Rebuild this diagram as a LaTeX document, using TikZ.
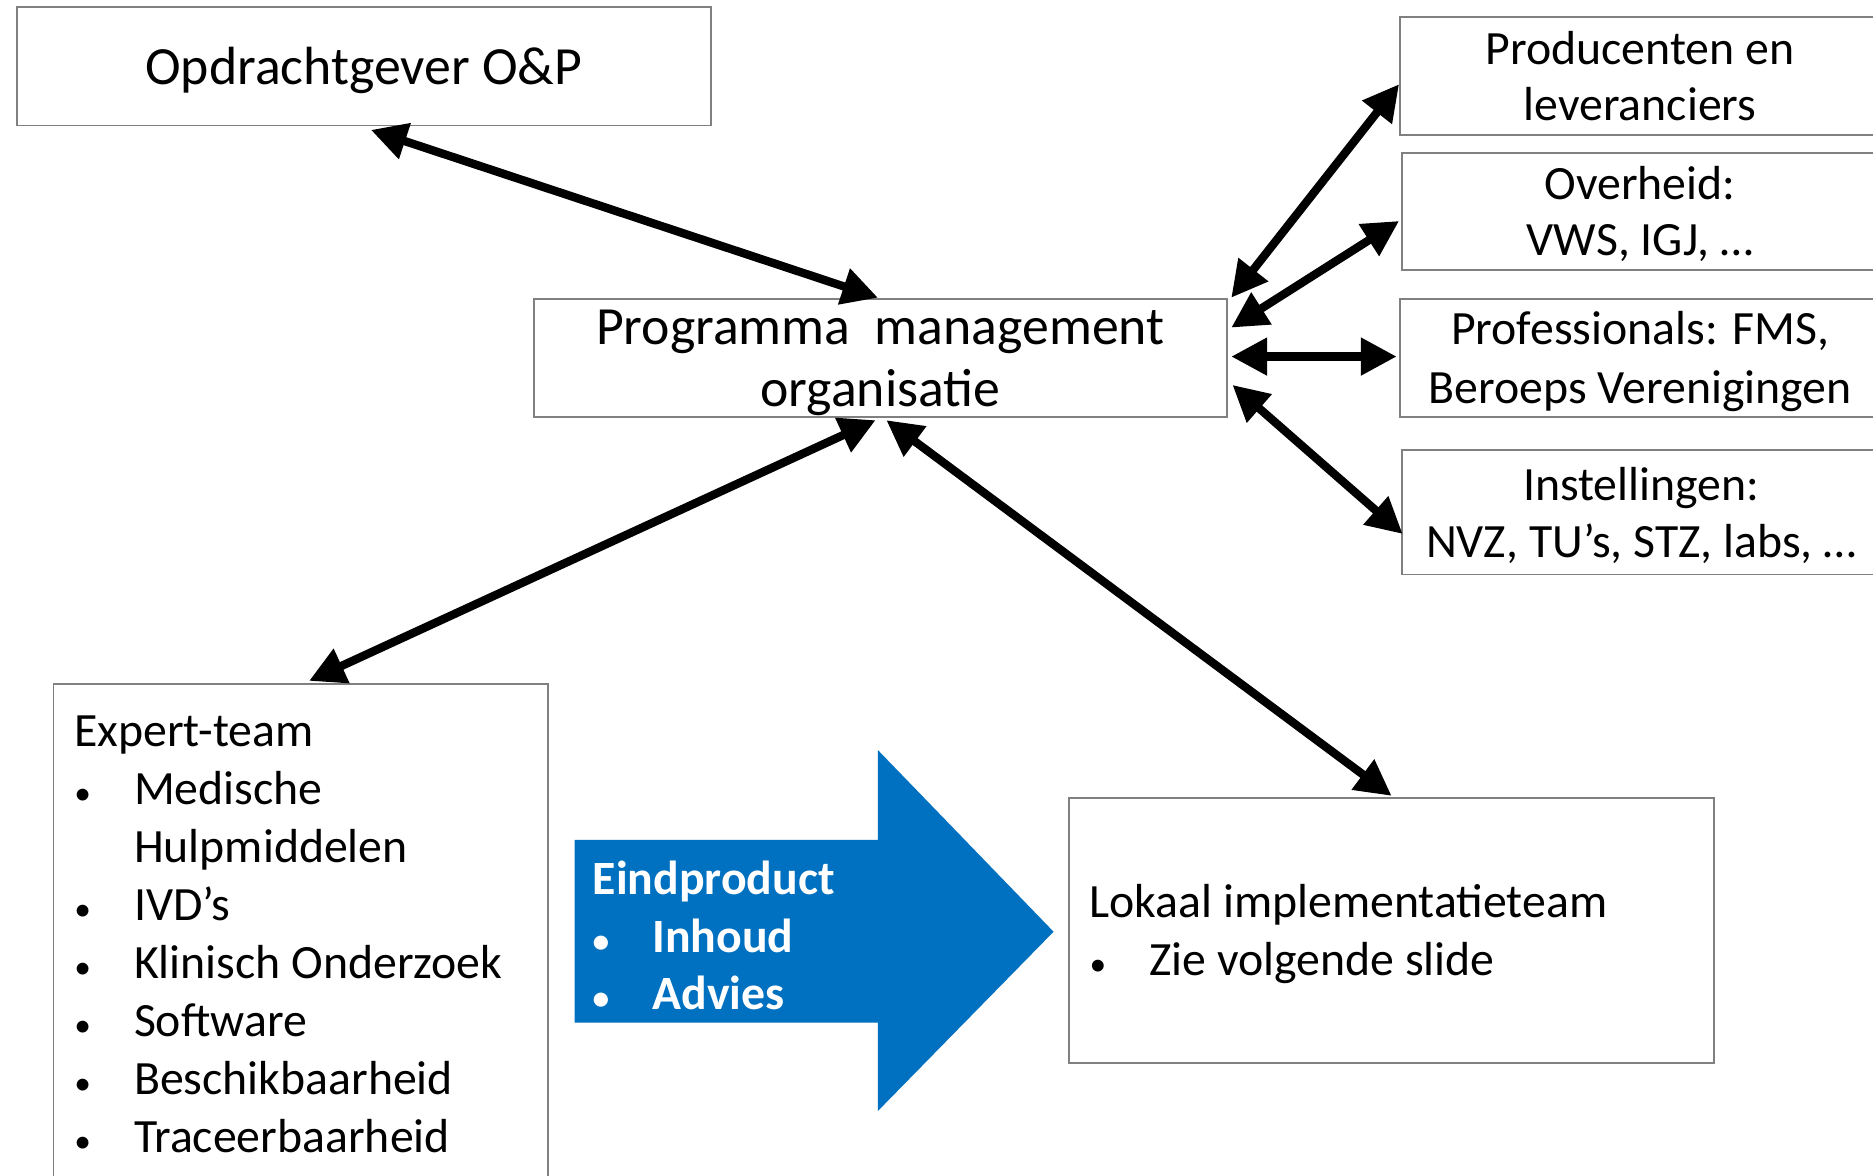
\documentclass[tikz,border=0pt]{standalone}
\usepackage{fontspec}
\setmainfont{Carlito}
\usetikzlibrary{arrows.meta,calc}
\definecolor{boxline}{RGB}{128,128,128}
\definecolor{officeblue}{RGB}{0,112,192}
% small bullet followed by a fixed indent
\newcommand\bulitem{\makebox[50pt][l]{\scalebox{0.7}{\textbullet}}}
\begin{document}
\begin{tikzpicture}[x=1pt,y=-1pt,
  box/.style={draw=boxline,line width=1.5pt,inner sep=0pt},
  % text blocks are placed by the baseline of their last line
  boxtext/.style={anchor=base,align=center,inner sep=0pt},
  listtext/.style={anchor=base west,align=left,inner sep=0pt,
    font=\fontsize{40}{48.5}\selectfont},
  link/.style={line width=7pt,
    {Triangle[length=30pt,width=30pt]}-{Triangle[length=30pt,width=30pt]}}]
\clip (0,0) rectangle (1568,984);
\fill[white] (0,0) rectangle (1568,984);

% boxes
\node[box,minimum width=581pt,minimum height=99pt] (op) at (304.5,55.5) {};
\node[boxtext,font=\fontsize{45}{52}\selectfont] (optext) at (304.5,70.5) {Opdrachtgever O\&P};

\node[box,minimum width=580pt,minimum height=99pt] (pm) at (737,299.5) {};
\node[boxtext,font=\fontsize{45}{52}\selectfont] (pmtext) at (737,340.5)
  {Programma\ \ management\\organisatie};

\node[box,minimum width=403pt,minimum height=99pt] (prod) at (1373.5,63.5) {};
\node[boxtext,font=\fontsize{40}{47}\selectfont] (prodtext) at (1373,101)
  {Producenten en\\leveranciers};

\node[box,minimum width=401pt,minimum height=98pt] (ov) at (1374.5,177) {};
\node[boxtext,font=\fontsize{40}{47}\selectfont] (ovtext) at (1373,214)
  {Overheid:\\VWS, IGJ, \dots};

\node[box,minimum width=403pt,minimum height=99pt] (prof) at (1373.5,299.5) {};
\node[boxtext,font=\fontsize{40}{49}\selectfont] (proftext) at (1373,337.5)
  {Professionals: FMS,\\Beroeps Verenigingen};

\node[box,minimum width=401pt,minimum height=104pt] (inst) at (1374.5,429) {};
\node[boxtext,font=\fontsize{40}{48}\selectfont] (insttext) at (1374,467)
  {Instellingen:\\NVZ, TU’s, STZ, labs, \dots};

\node[box,minimum width=414pt,minimum height=440pt,anchor=north west] (ex) at (44,572) {};
\node[listtext] (exlist) at (62,964.5)
  {Expert-team\\
   \bulitem Medische\\
   \hspace*{50pt}Hulpmiddelen\\
   \bulitem IVD’s\\
   \bulitem Klinisch Onderzoek\\
   \bulitem Software\\
   \bulitem Beschikbaarheid\\
   \bulitem Traceerbaarheid};

\node[box,minimum width=540pt,minimum height=222pt] (lk) at (1165,779) {};
\node[listtext,font=\fontsize{40}{49}\selectfont] (lktext) at (912,817)
  {Lokaal implementatieteam\\ \bulitem Zie volgende slide};

% blue block arrow with the end product
\fill[officeblue] (481,703) -- (735,703) -- (735,628) -- (882,780)
  -- (735,930) -- (735,856) -- (481,856) -- cycle;
\node[listtext,text=white,font=\fontsize{40}{48}\selectfont\bfseries] (eind) at (496,845)
  {Eindproduct\\ \bulitem Inhoud\\ \bulitem Advies};

% two-way connections
\draw[link] ([xshift=6pt,yshift=-3pt]op.south) -- ([xshift=-2pt]pm.north);
\draw[link] ([xshift=-4pt,yshift=-2pt]pm.south) -- ([xshift=7pt,yshift=2pt]ex.north);
\draw[link] ([xshift=5pt,yshift=-2pt]pm.south) -- ([yshift=1pt]lk.north);
\draw[link] ([xshift=3pt]pm.north east) -- ([yshift=-7pt]prod.west);
\draw[link] ([xshift=3pt,yshift=-25pt]pm.north east) -- ([xshift=-2pt,yshift=-8pt]ov.west);
\draw[link] ([xshift=3pt,yshift=1pt]pm.east) -- ([xshift=-2pt,yshift=1pt]prof.west);
\draw[link] ([xshift=4pt,yshift=-73pt]pm.north east) -- ([xshift=1pt,yshift=-18pt]inst.west);
\end{tikzpicture}
\end{document}
